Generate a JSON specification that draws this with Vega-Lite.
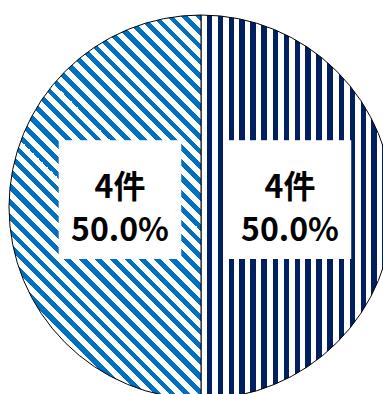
{
  "$schema": "https://vega.github.io/schema/vega-lite/v6.json",
  "width": 402,
  "height": 414,
  "autosize": "none",
  "padding": 0,
  "background": "white",
  "config": {"view": {"stroke": null}},
  "data": {"values": [
    {"cat": "A", "count": 4, "label": "4件\n50.0%"},
    {"cat": "B", "count": 4, "label": "4件\n50.0%"}
  ]},
  "encoding": {
    "theta": {"field": "count", "type": "quantitative", "stack": true},
    "order": {"field": "cat", "type": "nominal"}
  },
  "layer": [
    {
      "mark": {"type": "arc", "radius": 192, "stroke": "black", "strokeWidth": 1},
      "encoding": {
        "fill": {
          "condition": {"test": "datum.cat === 'A'", "value": {
            "gradient": "linear", "x1": 0, "y1": 0, "x2": 1, "y2": 0,
            "stops": [
              {"offset": 0.02865, "color": "#ffffff"}, {"offset": 0.02865, "color": "#002060"}, {"offset": 0.05729, "color": "#002060"}, {"offset": 0.05729, "color": "#ffffff"},
              {"offset": 0.08594, "color": "#ffffff"}, {"offset": 0.08594, "color": "#002060"}, {"offset": 0.11458, "color": "#002060"}, {"offset": 0.11458, "color": "#ffffff"},
              {"offset": 0.14323, "color": "#ffffff"}, {"offset": 0.14323, "color": "#002060"}, {"offset": 0.17188, "color": "#002060"}, {"offset": 0.17188, "color": "#ffffff"},
              {"offset": 0.20052, "color": "#ffffff"}, {"offset": 0.20052, "color": "#002060"}, {"offset": 0.22917, "color": "#002060"}, {"offset": 0.22917, "color": "#ffffff"},
              {"offset": 0.25781, "color": "#ffffff"}, {"offset": 0.25781, "color": "#002060"}, {"offset": 0.28646, "color": "#002060"}, {"offset": 0.28646, "color": "#ffffff"},
              {"offset": 0.3151, "color": "#ffffff"}, {"offset": 0.3151, "color": "#002060"}, {"offset": 0.34375, "color": "#002060"}, {"offset": 0.34375, "color": "#ffffff"},
              {"offset": 0.3724, "color": "#ffffff"}, {"offset": 0.3724, "color": "#002060"}, {"offset": 0.40104, "color": "#002060"}, {"offset": 0.40104, "color": "#ffffff"},
              {"offset": 0.42969, "color": "#ffffff"}, {"offset": 0.42969, "color": "#002060"}, {"offset": 0.45833, "color": "#002060"}, {"offset": 0.45833, "color": "#ffffff"},
              {"offset": 0.48698, "color": "#ffffff"}, {"offset": 0.48698, "color": "#002060"}, {"offset": 0.51563, "color": "#002060"}, {"offset": 0.51563, "color": "#ffffff"},
              {"offset": 0.54427, "color": "#ffffff"}, {"offset": 0.54427, "color": "#002060"}, {"offset": 0.57292, "color": "#002060"}, {"offset": 0.57292, "color": "#ffffff"},
              {"offset": 0.60156, "color": "#ffffff"}, {"offset": 0.60156, "color": "#002060"}, {"offset": 0.63021, "color": "#002060"}, {"offset": 0.63021, "color": "#ffffff"},
              {"offset": 0.65885, "color": "#ffffff"}, {"offset": 0.65885, "color": "#002060"}, {"offset": 0.6875, "color": "#002060"}, {"offset": 0.6875, "color": "#ffffff"},
              {"offset": 0.71615, "color": "#ffffff"}, {"offset": 0.71615, "color": "#002060"}, {"offset": 0.74479, "color": "#002060"}, {"offset": 0.74479, "color": "#ffffff"},
              {"offset": 0.77344, "color": "#ffffff"}, {"offset": 0.77344, "color": "#002060"}, {"offset": 0.80208, "color": "#002060"}, {"offset": 0.80208, "color": "#ffffff"},
              {"offset": 0.83073, "color": "#ffffff"}, {"offset": 0.83073, "color": "#002060"}, {"offset": 0.85938, "color": "#002060"}, {"offset": 0.85938, "color": "#ffffff"},
              {"offset": 0.88802, "color": "#ffffff"}, {"offset": 0.88802, "color": "#002060"}, {"offset": 0.91667, "color": "#002060"}, {"offset": 0.91667, "color": "#ffffff"},
              {"offset": 0.94531, "color": "#ffffff"}, {"offset": 0.94531, "color": "#002060"}, {"offset": 0.97396, "color": "#002060"}, {"offset": 0.97396, "color": "#ffffff"}
            ]}},
          "value": {
            "gradient": "linear", "x1": 0, "y1": 1, "x2": 0.6, "y2": -0.2,
            "stops": [
              {"offset": 0, "color": "#0070c0"}, {"offset": 0.01215, "color": "#0070c0"}, {"offset": 0.01215, "color": "#ffffff"},
              {"offset": 0.02604, "color": "#ffffff"}, {"offset": 0.02604, "color": "#0070c0"}, {"offset": 0.03819, "color": "#0070c0"}, {"offset": 0.03819, "color": "#ffffff"},
              {"offset": 0.05208, "color": "#ffffff"}, {"offset": 0.05208, "color": "#0070c0"}, {"offset": 0.06424, "color": "#0070c0"}, {"offset": 0.06424, "color": "#ffffff"},
              {"offset": 0.07813, "color": "#ffffff"}, {"offset": 0.07813, "color": "#0070c0"}, {"offset": 0.09028, "color": "#0070c0"}, {"offset": 0.09028, "color": "#ffffff"},
              {"offset": 0.10417, "color": "#ffffff"}, {"offset": 0.10417, "color": "#0070c0"}, {"offset": 0.11632, "color": "#0070c0"}, {"offset": 0.11632, "color": "#ffffff"},
              {"offset": 0.13021, "color": "#ffffff"}, {"offset": 0.13021, "color": "#0070c0"}, {"offset": 0.14236, "color": "#0070c0"}, {"offset": 0.14236, "color": "#ffffff"},
              {"offset": 0.15625, "color": "#ffffff"}, {"offset": 0.15625, "color": "#0070c0"}, {"offset": 0.1684, "color": "#0070c0"}, {"offset": 0.1684, "color": "#ffffff"},
              {"offset": 0.18229, "color": "#ffffff"}, {"offset": 0.18229, "color": "#0070c0"}, {"offset": 0.19444, "color": "#0070c0"}, {"offset": 0.19444, "color": "#ffffff"},
              {"offset": 0.20833, "color": "#ffffff"}, {"offset": 0.20833, "color": "#0070c0"}, {"offset": 0.22049, "color": "#0070c0"}, {"offset": 0.22049, "color": "#ffffff"},
              {"offset": 0.23438, "color": "#ffffff"}, {"offset": 0.23438, "color": "#0070c0"}, {"offset": 0.24653, "color": "#0070c0"}, {"offset": 0.24653, "color": "#ffffff"},
              {"offset": 0.26042, "color": "#ffffff"}, {"offset": 0.26042, "color": "#0070c0"}, {"offset": 0.27257, "color": "#0070c0"}, {"offset": 0.27257, "color": "#ffffff"},
              {"offset": 0.28646, "color": "#ffffff"}, {"offset": 0.28646, "color": "#0070c0"}, {"offset": 0.29861, "color": "#0070c0"}, {"offset": 0.29861, "color": "#ffffff"},
              {"offset": 0.3125, "color": "#ffffff"}, {"offset": 0.3125, "color": "#0070c0"}, {"offset": 0.32465, "color": "#0070c0"}, {"offset": 0.32465, "color": "#ffffff"},
              {"offset": 0.33854, "color": "#ffffff"}, {"offset": 0.33854, "color": "#0070c0"}, {"offset": 0.35069, "color": "#0070c0"}, {"offset": 0.35069, "color": "#ffffff"},
              {"offset": 0.36458, "color": "#ffffff"}, {"offset": 0.36458, "color": "#0070c0"}, {"offset": 0.37674, "color": "#0070c0"}, {"offset": 0.37674, "color": "#ffffff"},
              {"offset": 0.39063, "color": "#ffffff"}, {"offset": 0.39063, "color": "#0070c0"}, {"offset": 0.40278, "color": "#0070c0"}, {"offset": 0.40278, "color": "#ffffff"},
              {"offset": 0.41667, "color": "#ffffff"}, {"offset": 0.41667, "color": "#0070c0"}, {"offset": 0.42882, "color": "#0070c0"}, {"offset": 0.42882, "color": "#ffffff"},
              {"offset": 0.44271, "color": "#ffffff"}, {"offset": 0.44271, "color": "#0070c0"}, {"offset": 0.45486, "color": "#0070c0"}, {"offset": 0.45486, "color": "#ffffff"},
              {"offset": 0.46875, "color": "#ffffff"}, {"offset": 0.46875, "color": "#0070c0"}, {"offset": 0.4809, "color": "#0070c0"}, {"offset": 0.4809, "color": "#ffffff"},
              {"offset": 0.49479, "color": "#ffffff"}, {"offset": 0.49479, "color": "#0070c0"}, {"offset": 0.50694, "color": "#0070c0"}, {"offset": 0.50694, "color": "#ffffff"},
              {"offset": 0.52083, "color": "#ffffff"}, {"offset": 0.52083, "color": "#0070c0"}, {"offset": 0.53299, "color": "#0070c0"}, {"offset": 0.53299, "color": "#ffffff"},
              {"offset": 0.54688, "color": "#ffffff"}, {"offset": 0.54688, "color": "#0070c0"}, {"offset": 0.55903, "color": "#0070c0"}, {"offset": 0.55903, "color": "#ffffff"},
              {"offset": 0.57292, "color": "#ffffff"}, {"offset": 0.57292, "color": "#0070c0"}, {"offset": 0.58507, "color": "#0070c0"}, {"offset": 0.58507, "color": "#ffffff"},
              {"offset": 0.59896, "color": "#ffffff"}, {"offset": 0.59896, "color": "#0070c0"}, {"offset": 0.61111, "color": "#0070c0"}, {"offset": 0.61111, "color": "#ffffff"},
              {"offset": 0.625, "color": "#ffffff"}, {"offset": 0.625, "color": "#0070c0"}, {"offset": 0.63715, "color": "#0070c0"}, {"offset": 0.63715, "color": "#ffffff"},
              {"offset": 0.65104, "color": "#ffffff"}, {"offset": 0.65104, "color": "#0070c0"}, {"offset": 0.66319, "color": "#0070c0"}, {"offset": 0.66319, "color": "#ffffff"},
              {"offset": 0.67708, "color": "#ffffff"}, {"offset": 0.67708, "color": "#0070c0"}, {"offset": 0.68924, "color": "#0070c0"}, {"offset": 0.68924, "color": "#ffffff"},
              {"offset": 0.70313, "color": "#ffffff"}, {"offset": 0.70313, "color": "#0070c0"}, {"offset": 0.71528, "color": "#0070c0"}, {"offset": 0.71528, "color": "#ffffff"},
              {"offset": 0.72917, "color": "#ffffff"}, {"offset": 0.72917, "color": "#0070c0"}, {"offset": 0.74132, "color": "#0070c0"}, {"offset": 0.74132, "color": "#ffffff"},
              {"offset": 0.75521, "color": "#ffffff"}, {"offset": 0.75521, "color": "#0070c0"}, {"offset": 0.76736, "color": "#0070c0"}, {"offset": 0.76736, "color": "#ffffff"},
              {"offset": 0.78125, "color": "#ffffff"}, {"offset": 0.78125, "color": "#0070c0"}, {"offset": 0.7934, "color": "#0070c0"}, {"offset": 0.7934, "color": "#ffffff"},
              {"offset": 0.80729, "color": "#ffffff"}, {"offset": 0.80729, "color": "#0070c0"}, {"offset": 0.81944, "color": "#0070c0"}, {"offset": 0.81944, "color": "#ffffff"},
              {"offset": 0.83333, "color": "#ffffff"}, {"offset": 0.83333, "color": "#0070c0"}, {"offset": 0.84549, "color": "#0070c0"}, {"offset": 0.84549, "color": "#ffffff"},
              {"offset": 0.85938, "color": "#ffffff"}, {"offset": 0.85938, "color": "#0070c0"}, {"offset": 0.87153, "color": "#0070c0"}, {"offset": 0.87153, "color": "#ffffff"},
              {"offset": 0.88542, "color": "#ffffff"}, {"offset": 0.88542, "color": "#0070c0"}, {"offset": 0.89757, "color": "#0070c0"}, {"offset": 0.89757, "color": "#ffffff"},
              {"offset": 0.91146, "color": "#ffffff"}, {"offset": 0.91146, "color": "#0070c0"}, {"offset": 0.92361, "color": "#0070c0"}, {"offset": 0.92361, "color": "#ffffff"},
              {"offset": 0.9375, "color": "#ffffff"}, {"offset": 0.9375, "color": "#0070c0"}, {"offset": 0.94965, "color": "#0070c0"}, {"offset": 0.94965, "color": "#ffffff"},
              {"offset": 0.96354, "color": "#ffffff"}, {"offset": 0.96354, "color": "#0070c0"}, {"offset": 0.97569, "color": "#0070c0"}, {"offset": 0.97569, "color": "#ffffff"},
              {"offset": 0.98958, "color": "#ffffff"}, {"offset": 0.98958, "color": "#0070c0"}, {"offset": 1, "color": "#0070c0"}
            ]}
        }
      }
    },
    {
      "mark": {"type": "text", "text": "██", "font": "DejaVu Sans Mono", "fontSize": 100, "color": "white", "radius": 85, "dx": 4, "dy": -3, "baseline": "middle", "align": "center"}
    },
    {
      "mark": {"type": "text", "font": "Noto Sans CJK JP", "fontWeight": "bold", "fontSize": 32, "lineHeight": 43, "lineBreak": "\n", "color": "black", "radius": 85, "dx": 4, "dy": -19, "baseline": "middle", "align": "center"},
      "encoding": {"text": {"field": "label", "type": "nominal"}}
    }
  ]
}
